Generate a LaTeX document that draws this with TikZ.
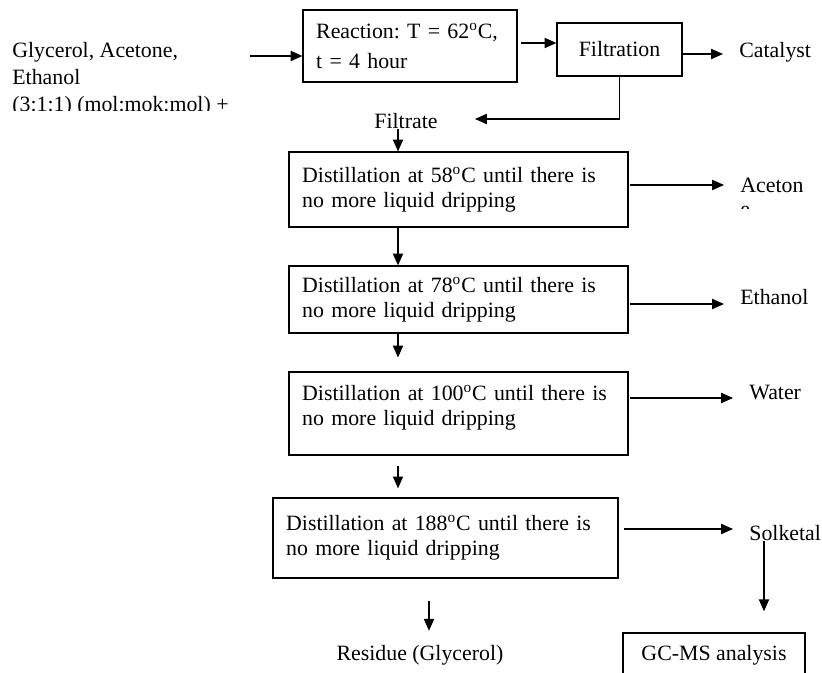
\documentclass[tikz,border=0pt]{standalone}
\usepackage{fontspec}
\setmainfont{Liberation Serif}
\frenchspacing
\usetikzlibrary{positioning}
\usetikzlibrary{arrows.meta}

\begin{document}
\begin{tikzpicture}[x=0.531pt, y=-0.531pt, font=\fontsize{11.6}{13.4}\selectfont]
		
		\useasboundingbox (0,0) rectangle (822,673);
		
		\tikzset{
			procbox/.style={draw, line width=0.6pt, align=left, inner xsep=7pt, inner ysep=0pt},
			outtext/.style={anchor=west, inner xsep=8.5pt, inner ysep=0pt},
			plaintext/.style={inner sep=0pt},
			flow/.style={-{Triangle[length=6.3pt, width=5.4pt]}, line width=0.7pt}
		}
		
		% --- columns of the vertical arrows ---
		\coordinate (spine) at (398,0);
		\coordinate (rcol) at (429,0);
		\coordinate (scol) at (764,0);
		\coordinate (feed) at (250,56);
		\coordinate (fback) at (475,119);
		
		% Feed text (cut at its last line)
		\begin{scope}
			\clip (0,0) rectangle (300,111);
			\node[plaintext, anchor=north west, align=left, font=\fontsize{11.6}{14.3}\selectfont] (feedtext) at (12,42)
				{Glycerol, Acetone,\\Ethanol\\(3:1:1) (mol:mok:mol) +};
		\end{scope}
		
		% Top row
		\node[procbox, text width=99.6pt, minimum height=38.2pt, font=\fontsize{11.6}{15.5}\selectfont] (react) at (410,46)
			{Reaction: T = 62\textsuperscript{o}C,\\t = 4 hour};
		\node[draw, line width=0.6pt, minimum width=66.4pt, minimum height=28.1pt] (filt) at (619.5,49.5) {Filtration};
		\node[outtext] (catalyst) at (723,52) {Catalyst};
		\node[plaintext] (filtrate) at (406,121) {Filtrate};
		
		% Distillation steps
		\node[procbox, text width=166pt, minimum height=39.8pt] (d1) at (458.5,189.5)
			{Distillation at 58\textsuperscript{o}C until there is\\no more liquid dripping};
		\node[procbox, text width=166pt, minimum height=35.6pt] (d2) at (458.5,299.5)
			{Distillation at 78\textsuperscript{o}C until there is\\no more liquid dripping};
		\node[procbox, text width=166pt, minimum height=44.1pt] (d3) at (458.5,413.5)
			{Distillation at 100\textsuperscript{o}C until there is\\no more liquid dripping\vspace{6pt}};
		\node[procbox, text width=169.2pt, minimum height=42.5pt] (d4) at (445.5,538)
			{Distillation at 188\textsuperscript{o}C until there is\\no more liquid dripping};
		
		% Products
		\node[outtext] (aceton) at (724,185) {Aceton};
		\begin{scope}
			\clip (700,170) rectangle (822,209);
			\node[outtext, anchor=base west] (acetontail) at (724,217) {e};
		\end{scope}
		\node[outtext] (ethanol) at (724,297) {Ethanol};
		\node[outtext] (water) at (733,393) {Water};
		\node[outtext] (solketal) at (733,533) {Solketal};
		\node[plaintext] (residue) at (420,655) {Residue (Glycerol)};
		\node[draw, line width=0.6pt, minimum width=96.6pt, minimum height=23.4pt] (gcms) at (714,655) {GC-MS analysis};
		
		% --- connectors ---
		\draw[flow] (feed) -- (feed -| react.west);
		\draw[flow, shorten <=2pt] (react.east |- 0,43) -- (filt.west |- 0,43);
		\draw[flow] (filt.east |- 0,54) -- (catalyst.west |- 0,54);
		\draw[flow] (filt.south) |- (fback);
		
		\draw[flow] (filtrate.south -| spine) -- (d1.north -| spine);
		\draw[flow] (d1.south -| spine) -- (d2.north -| spine);
		\draw[flow, shorten >=7.4pt] (d2.south -| spine) -- (d3.north -| spine);
		\draw[flow, shorten <=5.3pt, shorten >=4.8pt] (d3.south -| spine) -- (d4.north -| spine);
		\draw[flow, shorten <=11.7pt, shorten >=7.4pt] (d4.south -| rcol) -- (residue.north -| rcol);
		
		\draw[flow, shorten <=1pt] (d1.east |- 0,185) -- (aceton.west |- 0,185);
		\draw[flow, shorten <=1pt] (d2.east |- 0,304) -- (ethanol.west |- 0,304);
		\draw[flow, shorten <=1pt] (d3.east |- 0,398) -- (water.west |- 0,398);
		\draw[flow, shorten <=3pt] (d4.east |- 0,529) -- (solketal.west |- 0,529);
		\draw[flow, shorten >=11.2pt] (solketal.south -| scol) -- (gcms.north -| scol);
		
\end{tikzpicture}
\end{document}
